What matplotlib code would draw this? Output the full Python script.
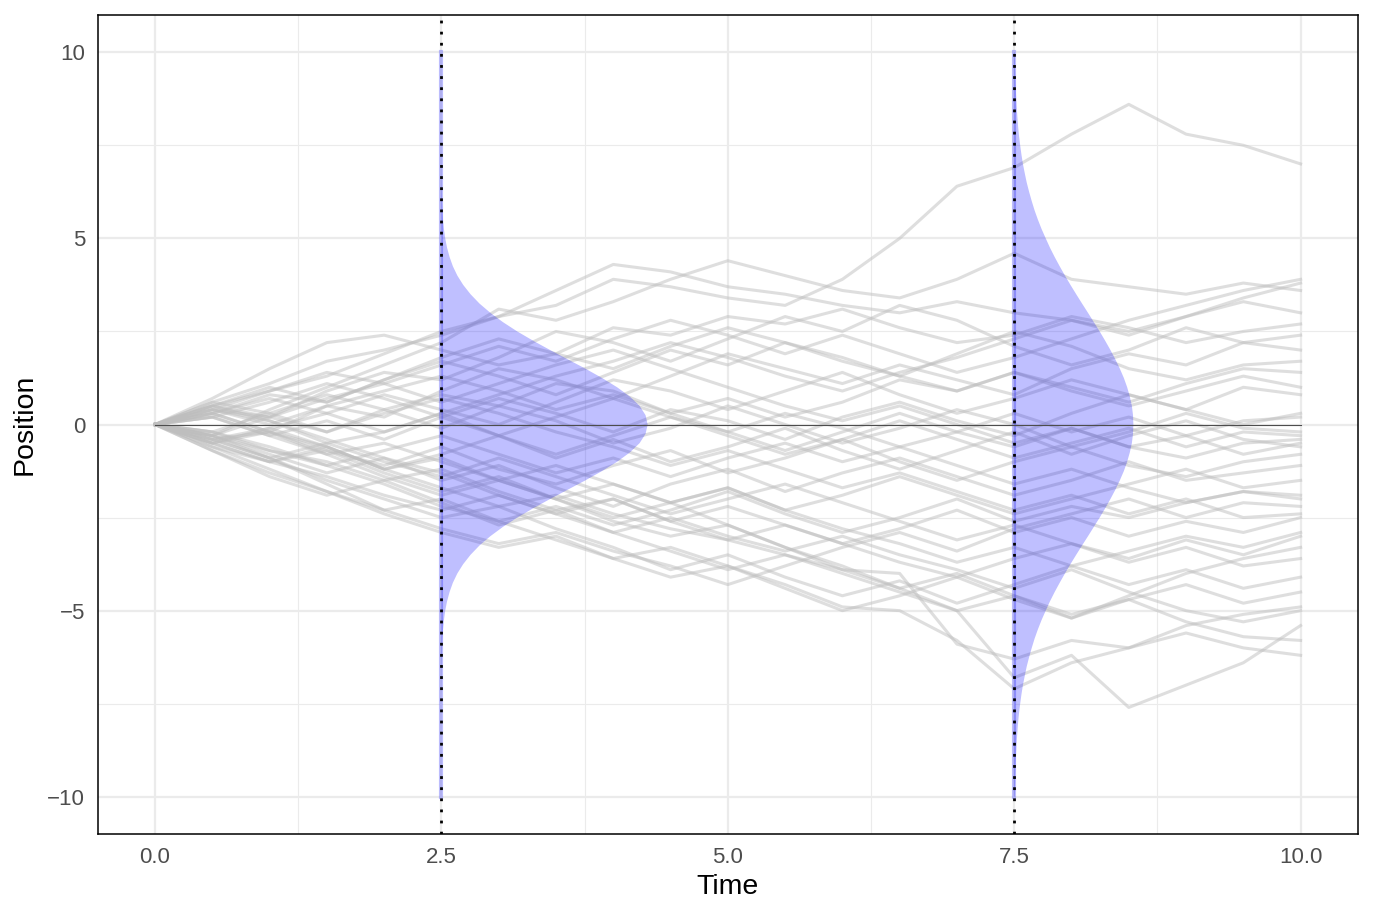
import numpy as np
import matplotlib.pyplot as plt

# -------------------------
# Data
# -------------------------
# sample times for every path (every 0.5 time units)
times = np.linspace(0, 10, 21)

# simulated positions, one list per path
paths = [
    [0, 0.6, 1.1, 1.7, 2.0, 2.4, 2.9, 3.2, 3.9, 3.7, 3.4, 3.2, 3.9, 5.0, 6.4, 6.9, 7.8, 8.6, 7.8, 7.5, 7.0],
    [0, 0.5, 0.9, 1.3, 1.9, 2.5, 2.9, 3.6, 4.3, 4.1, 3.7, 3.5, 3.2, 3.0, 3.3, 3.0, 2.8, 2.5, 2.9, 3.4, 3.8],
    [0, -0.3, 0.4, 1.0, 1.6, 2.2, 3.1, 2.8, 3.3, 3.9, 4.4, 4.0, 3.6, 3.4, 3.9, 4.6, 3.9, 3.7, 3.5, 3.8, 3.6],
    [0, 0.7, 1.5, 2.2, 2.4, 2.0, 1.6, 1.9, 2.6, 2.4, 2.9, 2.7, 3.1, 2.6, 2.2, 2.4, 2.9, 2.6, 2.2, 2.5, 2.7],
    [0, 0.4, 0.2, 0.9, 1.4, 1.2, 1.8, 2.5, 2.2, 1.7, 2.3, 2.9, 2.5, 3.2, 2.8, 2.1, 1.6, 2.0, 2.6, 2.2, 2.4],
    [0, -0.4, -0.2, 0.5, 0.2, 0.9, 1.5, 1.2, 0.7, 1.3, 1.9, 1.5, 1.1, 1.6, 1.2, 0.8, 1.5, 1.9, 1.6, 2.2, 2.0],
    [0, 0.3, 0.8, 0.6, 1.2, 1.7, 1.3, 0.8, 1.4, 2.0, 1.6, 2.2, 1.8, 1.3, 1.9, 2.5, 2.1, 1.5, 1.2, 1.6, 1.7],
    [0, 0.6, 0.3, -0.2, 0.4, 0.8, 0.5, 1.1, 0.9, 0.3, 0.7, 0.2, 0.6, 1.2, 0.9, 1.4, 1.0, 0.6, 1.1, 1.5, 1.4],
    [0, -0.5, -0.1, 0.3, 0.8, 0.4, 0.0, 0.6, 1.2, 0.9, 0.4, 0.9, 1.4, 0.8, 0.3, 0.7, 1.2, 0.8, 0.4, 1.0, 0.8],
    [0, 0.2, -0.3, 0.1, -0.4, 0.2, 0.7, 0.3, -0.2, 0.4, 0.1, -0.4, 0.2, 0.6, 0.1, -0.3, 0.3, 0.8, 0.4, 0.0, 0.3],
    [0, -0.2, 0.3, 0.8, 0.4, -0.1, 0.5, 0.1, -0.5, -0.1, 0.5, 0.0, -0.5, -0.1, 0.4, 0.0, -0.6, -0.2, 0.3, -0.1, -0.2],
    [0, 0.4, 0.1, -0.5, -0.2, 0.3, -0.3, -0.8, -0.3, 0.2, -0.2, -0.7, -0.2, 0.3, -0.2, -0.6, -0.1, -0.6, -0.9, -0.5, -0.4],
    [0, -0.6, -1.0, -0.6, -1.2, -0.8, -0.3, -0.9, -0.4, -1.0, -0.6, -0.1, -0.7, -1.2, -0.7, -0.2, -0.8, -0.3, 0.1, -0.4, -0.6],
    [0, 0.3, -0.2, -0.7, -1.1, -0.6, -1.2, -1.6, -1.1, -0.7, -1.3, -0.9, -0.4, -1.0, -1.5, -1.0, -0.6, -1.1, -1.4, -1.0, -0.8],
    [0, -0.3, -0.8, -1.3, -0.9, -1.5, -1.1, -1.7, -2.2, -1.6, -1.2, -1.8, -1.3, -0.9, -1.4, -1.9, -1.5, -1.0, -1.5, -1.3, -1.1],
    [0, -0.5, -0.2, -0.8, -1.4, -1.9, -1.5, -2.0, -1.6, -2.1, -1.7, -2.3, -1.9, -1.4, -1.9, -2.4, -2.0, -1.6, -1.2, -1.7, -1.5],
    [0, -0.2, -0.7, -1.1, -1.6, -2.2, -2.6, -2.2, -2.7, -2.3, -1.8, -2.4, -2.9, -2.5, -2.0, -2.6, -2.2, -2.5, -2.1, -1.8, -1.9],
    [0, -0.7, -1.3, -1.8, -2.3, -2.8, -3.2, -2.9, -3.4, -3.8, -4.3, -3.8, -3.3, -2.9, -3.4, -2.8, -2.4, -2.0, -2.5, -2.1, -2.2],
    [0, 0.5, 0.1, -0.4, -0.9, -1.3, -1.9, -2.4, -2.0, -2.6, -3.1, -2.7, -3.2, -2.8, -2.3, -2.9, -2.5, -3.0, -2.6, -2.9, -2.5],
    [0, -0.4, -0.9, -1.5, -2.0, -2.5, -2.2, -2.8, -3.3, -3.9, -3.5, -4.1, -4.6, -4.2, -4.8, -4.3, -3.8, -3.4, -3.0, -3.3, -2.9],
    [0, -0.6, -1.2, -1.8, -2.4, -2.9, -3.3, -3.0, -3.6, -4.1, -3.8, -4.4, -5.0, -4.6, -4.1, -4.7, -5.2, -4.6, -4.0, -3.6, -3.3],
    [0, -0.3, -0.7, -1.0, -1.5, -1.2, -1.8, -2.3, -2.0, -2.6, -2.2, -2.7, -3.2, -3.7, -4.1, -3.6, -3.2, -3.7, -3.3, -3.8, -3.6],
    [0, 0.2, -0.3, -0.8, -0.5, -1.0, -1.5, -1.1, -1.6, -2.1, -1.7, -2.3, -2.8, -3.2, -3.7, -3.3, -3.8, -4.3, -3.9, -4.4, -4.1],
    [0, -0.5, -1.0, -0.7, -1.3, -1.8, -1.4, -2.0, -2.5, -2.1, -2.7, -3.3, -3.9, -4.4, -5.0, -4.6, -5.2, -4.7, -4.3, -4.8, -4.5],
    [0, -0.4, -0.1, -0.6, -1.2, -1.7, -2.2, -1.9, -2.4, -2.8, -3.1, -3.5, -3.9, -4.0, -5.9, -6.3, -5.8, -6.0, -5.4, -5.1, -4.9],
    [0, -0.7, -1.4, -1.9, -1.5, -2.1, -2.7, -2.3, -2.9, -3.4, -3.9, -3.5, -4.0, -4.5, -5.0, -6.8, -6.2, -7.6, -7.0, -6.4, -5.4],
    [0, 0.3, -0.2, -0.6, -1.2, -0.9, -1.5, -2.0, -2.6, -3.0, -2.7, -3.3, -3.8, -4.4, -4.0, -4.6, -5.1, -4.7, -5.3, -5.7, -5.8],
    [0, -0.3, -0.9, -1.6, -2.3, -2.0, -2.6, -3.1, -3.6, -3.3, -3.8, -4.3, -4.9, -5.0, -5.8, -7.1, -6.4, -6.0, -5.6, -6.0, -6.2],
    [0, 0.5, 1.0, 0.6, 1.2, 1.8, 2.3, 1.9, 1.5, 2.1, 2.6, 2.2, 1.7, 1.3, 0.9, 1.4, 0.9, 0.5, 0.9, 1.3, 1.0],
    [0, 0.2, 0.6, 1.1, 0.7, 0.2, -0.3, 0.2, 0.7, 0.2, -0.3, -0.8, -0.4, 0.1, -0.4, -0.9, -0.5, -0.1, -0.6, -0.2, -0.3],
    [0, 0.4, 0.9, 1.4, 1.1, 1.6, 2.1, 1.7, 2.3, 2.8, 2.4, 1.9, 2.4, 1.9, 1.4, 1.8, 2.3, 2.8, 3.2, 3.6, 3.9],
    [0, -0.3, 0.2, -0.2, 0.3, 0.7, 0.3, -0.2, -0.6, -1.1, -0.7, -1.2, -1.7, -1.3, -1.8, -2.3, -1.9, -2.4, -2.0, -2.5, -2.4],
    [0, 0.5, 0.2, 0.7, 1.1, 0.6, 1.1, 1.6, 2.0, 1.5, 1.0, 0.5, 0.1, 0.5, 0.0, -0.5, -0.1, -0.6, -0.3, -0.8, -0.5],
    [0, -0.4, -0.9, -0.5, -1.0, -1.4, -0.9, -1.4, -1.9, -2.4, -2.0, -1.6, -2.1, -2.6, -3.1, -2.7, -3.2, -3.6, -3.1, -3.5, -3.0],
    [0, 0.3, 0.7, 0.3, -0.2, 0.3, 0.8, 1.3, 1.7, 2.2, 1.8, 1.3, 0.9, 1.4, 1.8, 2.3, 2.8, 2.4, 2.9, 3.3, 3.0],
    [0, -0.2, -0.6, -1.1, -0.7, -0.3, -0.8, -1.3, -0.9, -1.4, -0.9, -0.5, -1.0, -0.6, -1.1, -1.6, -1.2, -1.7, -2.1, -1.8, -2.0],
    [0, 0.4, 0.0, 0.5, 0.9, 1.3, 0.9, 0.4, 0.8, 0.3, -0.2, 0.3, -0.1, -0.6, -0.2, 0.3, -0.2, 0.2, -0.3, 0.1, 0.2],
    [0, -0.5, -1.0, -1.4, -1.9, -2.3, -1.9, -2.4, -2.9, -2.5, -3.0, -3.4, -3.0, -3.5, -3.9, -4.4, -3.9, -4.5, -5.0, -5.3, -5.0],
]

# density snapshots: positions (0.25 steps, 0 .. 10) and horizontal widths (time units)
snap_times = [2.5, 7.5]
dens_pos = np.linspace(0, 10, 41)
half_25 = [1.800, 1.782, 1.730, 1.645, 1.534, 1.402, 1.257, 1.103, 0.949, 0.801,
           0.662, 0.537, 0.427, 0.332, 0.254, 0.190, 0.139, 0.100, 0.071, 0.049,
           0.033, 0.022, 0.014, 0.009, 0.006, 0.0035, 0.002, 0.0012, 0.0007, 0,
           0, 0, 0, 0, 0, 0, 0, 0, 0, 0, 0]
half_75 = [1.040, 1.037, 1.027, 1.009, 0.986, 0.957, 0.922, 0.883, 0.840, 0.794,
           0.746, 0.695, 0.644, 0.592, 0.541, 0.491, 0.443, 0.397, 0.353, 0.312,
           0.275, 0.239, 0.207, 0.178, 0.153, 0.130, 0.109, 0.092, 0.076, 0.063,
           0.052, 0.042, 0.034, 0.028, 0.022, 0.018, 0.014, 0.011, 0.008, 0.0065,
           0.005]

# -------------------------
# Figure
# -------------------------
plt.rcParams['font.family'] = ['Liberation Sans', 'DejaVu Sans']

fig = plt.figure(figsize=(13.73, 9.15), dpi=100)
ax = fig.add_axes([0.0712, 0.0885, 0.9178, 0.8951])

for p in paths:
    ax.plot(times, p, color='#BEBEBE', alpha=0.5, lw=2.2,
            solid_joinstyle='round', zorder=2)

dens_y = np.concatenate([-dens_pos[::-1], dens_pos[1:]])
for t, half in zip(snap_times, [half_25, half_75]):
    w = np.array(half[::-1] + half[1:])
    ax.fill_betweenx(dens_y, t, t + w, facecolor='blue',
                     alpha=0.25, linewidth=0, zorder=3)
    ax.plot([t, t], [dens_y[0], dens_y[-1]], color='blue', alpha=0.25,
            lw=3, zorder=3)
    ax.axvline(t, color='black', lw=2, linestyle=(0, (1, 3)),
               dash_capstyle='butt', zorder=5)

ax.plot([times[0], times[-1]], [0, 0], color='#4D4D4D', lw=0.8, zorder=4)

# -------------------------
# Axes styling
# -------------------------
ax.set_xlim(-0.5, 10.5)
ax.set_ylim(-11, 11)

ax.set_xticks([0, 2.5, 5, 7.5, 10])
ax.set_xticklabels(['0.0', '2.5', '5.0', '7.5', '10.0'])
ax.set_yticks([-10, -5, 0, 5, 10])
ax.set_yticklabels(['\u221210', '\u22125', '0', '5', '10'])
ax.set_xticks([1.25, 3.75, 6.25, 8.75], minor=True)
ax.set_yticks([-7.5, -2.5, 2.5, 7.5], minor=True)

ax.grid(which='major', color='#EBEBEB', lw=1.6, zorder=0)
ax.grid(which='minor', color='#EBEBEB', lw=0.8, zorder=0)
ax.set_axisbelow(True)

ax.tick_params(which='both', length=0, labelsize=16, labelcolor='#4D4D4D')
ax.tick_params(axis='x', pad=9)
ax.tick_params(axis='y', pad=9)

for s in ax.spines.values():
    s.set_color('black')
    s.set_linewidth(1.1)

ax.set_xlabel('Time', fontsize=20.5, labelpad=5)
ax.set_ylabel('Position', fontsize=20.5, labelpad=7)

fig.savefig('out.png', dpi=100)
